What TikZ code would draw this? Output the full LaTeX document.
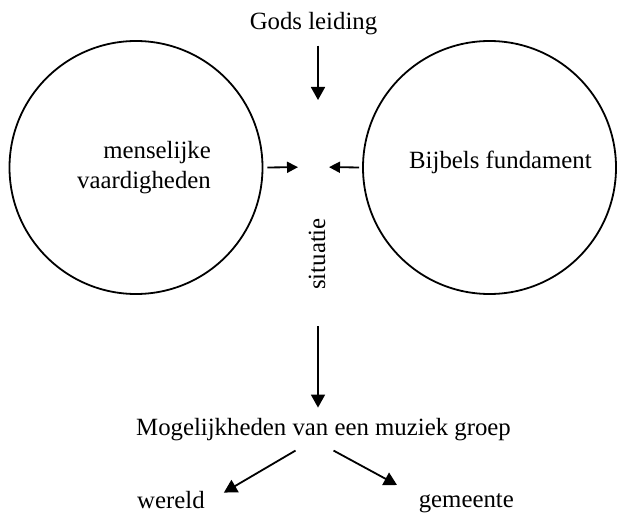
\documentclass[tikz,border=0pt]{standalone}
\usepackage{fontspec}
\setmainfont{Liberation Serif}
\usetikzlibrary{arrows.meta}
\begin{document}
\begin{tikzpicture}[x=1pt,y=-1pt,
  every node/.style={font=\fontsize{24.8pt}{30pt}\selectfont, inner sep=0pt},
  circ/.style={draw, circle, line width=1.8pt, minimum size=253pt},
  arr/.style={line width=1.8pt, -{Triangle[length=13pt,width=14pt]}},
  sarr/.style={line width=1.8pt, -{Triangle[length=11pt,width=11pt]}}]
\useasboundingbox (0,0) rectangle (617,513);
% circles
\node[circ] (L) at (136,167.5) {};
\node[circ] (R) at (489.5,167.5) {};
% texts
\node[anchor=base] (gods) at (313.5,30) {Gods leiding};
\node[anchor=base east, align=right] (mens) at (211,188) {menselijke\\vaardigheden};
\node[anchor=base west] (bijb) at (409,168) {Bijbels fundament};
\node[rotate=90] (sit) at (317,254) {situatie};
\node[anchor=base west] (mog) at (136,435) {Mogelijkheden van een muziek groep};
\node[anchor=base west] (wer) at (137,508) {wereld};
\node[anchor=base east] (gem) at (514,507) {gemeente};
% meeting point
\coordinate (hub) at (318,167);
% arrows
\draw[arr, shorten <=10pt, shorten >=67pt] (gods.south -| hub) -- (hub);
\draw[sarr, shorten <=4pt, shorten >=20pt] (L.east) -- (hub);
\draw[sarr, shorten <=3pt, shorten >=11pt] (R.west) -- (hub);
\coordinate (mtop) at (mog.north -| hub);
\draw[arr, shorten <=36pt, shorten >=10pt] (sit.west -| hub) -- (mtop);
\coordinate (ws) at ([xshift=-28pt,yshift=-10pt]mog.south);
\coordinate (wt) at ([xshift=19pt,yshift=-2pt]wer.north east);
\coordinate (gs) at ([xshift=10pt,yshift=-10pt]mog.south);
\coordinate (gt) at (397,485);
\draw[arr] (ws) -- (wt);
\draw[arr] (gs) -- (gt);
\end{tikzpicture}
\end{document}
